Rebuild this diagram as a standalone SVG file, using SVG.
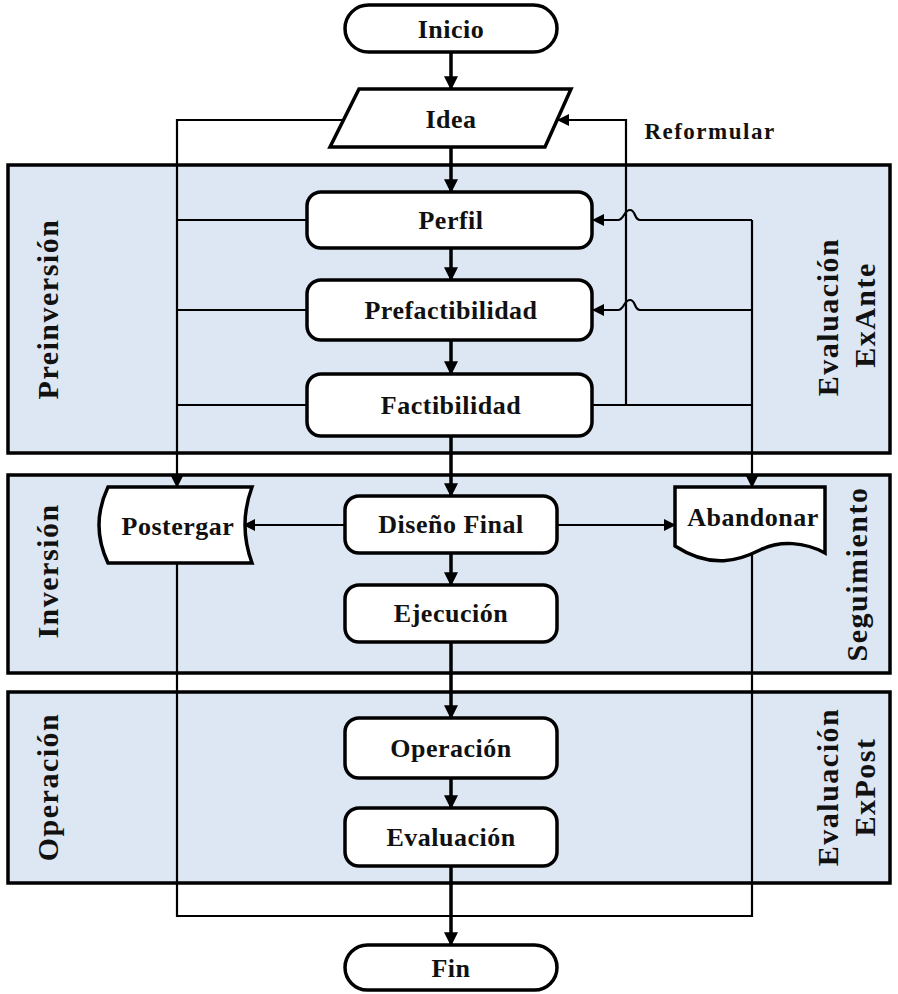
<svg xmlns="http://www.w3.org/2000/svg" width="898" height="994" viewBox="0 0 898 994">
<defs>
<marker id="ah" viewBox="0 0 12 12" refX="11" refY="6" markerWidth="12" markerHeight="12" markerUnits="userSpaceOnUse" orient="auto">
<path d="M0,0 L12,6 L0,12 Z" fill="#000"/>
</marker>
<marker id="ahs" viewBox="0 0 12 12" refX="11" refY="6" markerWidth="14" markerHeight="14" markerUnits="userSpaceOnUse" orient="auto">
<path d="M0,0 L12,6 L0,12 Z" fill="#000"/>
</marker>
</defs>
<style>
.band{fill:#dde6f3;stroke:#000;stroke-width:3.5}
.node{fill:#fff;stroke:#000;stroke-width:3.5}
.t{font-family:"Liberation Serif","Times New Roman",serif;font-weight:bold;font-size:26px;text-anchor:middle;dominant-baseline:central;fill:#111;letter-spacing:0.5px}
.bl{font-family:"Liberation Serif","Times New Roman",serif;font-weight:bold;font-size:30px;text-anchor:middle;dominant-baseline:central;fill:#111;letter-spacing:1.5px}
.main{fill:none;stroke:#000;stroke-width:3.5}
.side{fill:none;stroke:#000;stroke-width:2.2}
</style>
<rect width="898" height="994" fill="#fff"/>
<g id="bands">
<rect class="band" x="8" y="165" width="882" height="288"/>
<rect class="band" x="8" y="475" width="882" height="198"/>
<rect class="band" x="8" y="692" width="882" height="191"/>
<text class="bl" transform="translate(47,309) rotate(-90)">Preinversión</text>
<text class="bl" transform="translate(827,317) rotate(-90)">Evaluación</text>
<text class="bl" transform="translate(864,315) rotate(-90)">ExAnte</text>
<text class="bl" transform="translate(47,571) rotate(-90)">Inversión</text>
<text class="bl" transform="translate(856,574) rotate(-90)">Seguimiento</text>
<text class="bl" transform="translate(47,787) rotate(-90)">Operación</text>
<text class="bl" transform="translate(827,787) rotate(-90)">Evaluación</text>
<text class="bl" transform="translate(864,787) rotate(-90)">ExPost</text>
</g>
<g id="connectors">
<path class="main" d="M451,52 V89" marker-end="url(#ahs)"/>
<path class="main" d="M451,147 V192" marker-end="url(#ahs)"/>
<path class="main" d="M451,248 V280" marker-end="url(#ahs)"/>
<path class="main" d="M451,340 V374" marker-end="url(#ahs)"/>
<path class="main" d="M451,436 V496" marker-end="url(#ahs)"/>
<path class="main" d="M451,553 V585" marker-end="url(#ahs)"/>
<path class="main" d="M451,642 V718" marker-end="url(#ahs)"/>
<path class="main" d="M451,778 V808" marker-end="url(#ahs)"/>
<path class="main" d="M451,866 V945" marker-end="url(#ahs)"/>
<path class="side" d="M345,120 H177 V487" marker-end="url(#ah)"/>
<path class="side" d="M307,220 H177 M307,310 H177 M307,405 H177"/>
<path class="side" d="M592,405 H752 M626,405 V120 H558" marker-end="url(#ah)"/>
<path class="side" d="M752,220 V487" marker-end="url(#ah)"/>
<path class="side" d="M752,220 H640 C634,220 636,210 630,210 C624,210 624,220 618,220 H593" marker-end="url(#ah)"/>
<path class="side" d="M752,310 H640 C634,310 636,300 630,300 C624,300 624,310 618,310 H593" marker-end="url(#ah)"/>
<path class="side" d="M345,525 H244" marker-end="url(#ah)"/>
<path class="side" d="M557,525 H675" marker-end="url(#ah)"/>
<path class="side" d="M177,563 V916 H752 V552"/>
</g>
<g id="inicio"><rect class="node" x="345" y="5" width="212" height="47" rx="23.5"/><text class="t" x="451" y="29">Inicio</text></g>
<g id="idea"><polygon class="node" points="359,89 571,89 545,147 330,147"/><text class="t" x="451" y="119">Idea</text></g>
<g id="reformular"><text class="t" x="710" y="131" style="font-size:23px;letter-spacing:1.5px">Reformular</text></g>
<g id="perfil"><rect class="node" x="307" y="192" width="285" height="56" rx="14"/><text class="t" x="451" y="220">Perfil</text></g>
<g id="prefactibilidad"><rect class="node" x="307" y="280" width="285" height="60" rx="14"/><text class="t" x="451" y="310">Prefactibilidad</text></g>
<g id="factibilidad"><rect class="node" x="307" y="374" width="285" height="62" rx="14"/><text class="t" x="451" y="405">Factibilidad</text></g>
<g id="postergar"><path class="node" d="M108,487 H252 Q238,525 252,563 H108 Q90,525 108,487 Z"/><text class="t" x="178" y="526">Postergar</text></g>
<g id="disenofinal"><rect class="node" x="345" y="496" width="212" height="57" rx="14"/><text class="t" x="451" y="524">Diseño Final</text></g>
<g id="abandonar"><path class="node" d="M675,487 H825 V553 C805,542 780,540 760,550 C740,560 712,570 675,546 Z"/><text class="t" x="753" y="517">Abandonar</text></g>
<g id="ejecucion"><rect class="node" x="345" y="585" width="212" height="57" rx="14"/><text class="t" x="451" y="613">Ejecución</text></g>
<g id="operacion"><rect class="node" x="345" y="718" width="212" height="60" rx="14"/><text class="t" x="451" y="748">Operación</text></g>
<g id="evaluacion"><rect class="node" x="345" y="808" width="212" height="58" rx="14"/><text class="t" x="451" y="837">Evaluación</text></g>
<g id="fin"><rect class="node" x="345" y="945" width="212" height="45" rx="22.5"/><text class="t" x="451" y="968">Fin</text></g>
</svg>
